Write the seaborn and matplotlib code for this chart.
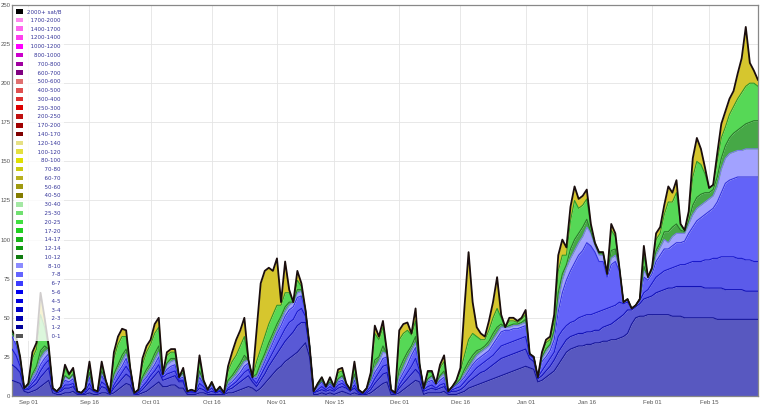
import pandas as pd
import numpy as np
import matplotlib.pyplot as plt
import seaborn as sns
from matplotlib.patches import Patch

# daily samples, 2020-08-28 .. 2021-02-27, cumulative levels in MvB
start = "2020-08-28"

total = [42, 38, 25, 5, 8, 28, 34, 66, 50, 32,
         5, 3, 6, 20, 14, 18, 3, 2, 5, 22,
         4, 3, 22, 10, 2, 28, 38, 43, 42, 18,
         2, 4, 24, 32, 36, 46, 50, 14, 28, 30,
         30, 12, 18, 3, 4, 3, 26, 10, 4, 9,
         3, 6, 2, 19, 28, 36, 42, 50, 23, 12,
         42, 72, 80, 82, 80, 88, 60, 86, 68, 60,
         80, 72, 55, 32, 3, 8, 12, 6, 12, 6,
         17, 18, 8, 4, 22, 4, 2, 5, 15, 45,
         38, 48, 28, 4, 2, 42, 46, 47, 40, 56,
         20, 5, 16, 16, 8, 20, 26, 3, 6, 10,
         18, 57, 92, 60, 44, 40, 38, 48, 60, 76,
         52, 44, 50, 50, 48, 50, 55, 27, 25, 12,
         28, 36, 38, 52, 90, 100, 95, 121, 134, 126,
         128, 132, 110, 98, 92, 92, 78, 110, 104, 82,
         60, 62, 56, 58, 62, 96, 76, 82, 104, 108,
         122, 134, 130, 138, 110, 106, 118, 152, 165, 158,
         146, 133, 135, 155, 174, 182, 190, 195, 206, 216,
         236, 213, 208, 202]

green_top = [41, 37, 25, 5, 8, 24, 30, 52, 44, 31,
             5, 3, 6, 18, 13, 17, 3, 2, 5, 20,
             4, 3, 20, 10, 2, 24, 33, 38, 38, 18,
             2, 4, 20, 28, 33, 40, 44, 14, 26, 28,
             28, 12, 17, 3, 4, 3, 23, 10, 4, 9,
             3, 6, 2, 16, 22, 26, 32, 38, 23, 12,
             22, 30, 38, 46, 52, 58, 58, 66, 66, 60,
             74, 70, 55, 32, 3, 8, 12, 6, 11, 6,
             15, 16, 8, 4, 19, 4, 2, 5, 14, 40,
             36, 44, 28, 4, 2, 36, 40, 42, 39, 48,
             20, 5, 15, 15, 8, 18, 22, 3, 6, 10,
             16, 26, 36, 40, 38, 36, 36, 42, 50, 56,
             50, 44, 48, 48, 47, 49, 52, 27, 25, 12,
             27, 34, 36, 48, 80, 90, 90, 112, 125, 120,
             122, 126, 108, 98, 92, 92, 78, 106, 102, 82,
             60, 62, 56, 58, 62, 90, 76, 82, 100, 104,
             116, 124, 124, 130, 110, 106, 116, 140, 150, 148,
             142, 133, 135, 150, 165, 172, 180, 185, 190, 194,
             198, 200, 200, 198]

dkgreen_top = [40, 36, 24, 5, 7, 14, 19, 29, 32, 30,
               5, 3, 6, 13, 11, 14, 3, 2, 5, 15,
               4, 3, 16, 10, 2, 14, 20, 26, 30, 18,
               2, 4, 12, 17, 21, 27, 32, 14, 21, 24,
               24, 12, 15, 3, 4, 3, 16, 9, 4, 8,
               3, 5, 2, 10, 13, 17, 21, 26, 23, 12,
               14, 21, 27, 34, 40, 46, 51, 57, 60, 60,
               68, 68, 55, 32, 3, 7, 10, 6, 9, 6,
               11, 13, 8, 4, 14, 4, 2, 5, 11, 23,
               25, 32, 27, 4, 2, 17, 23, 28, 32, 38,
               20, 5, 11, 13, 8, 13, 16, 3, 6, 8,
               11, 17, 22, 26, 29, 30, 32, 35, 40, 44,
               46, 44, 45, 46, 46, 47, 49, 27, 25, 12,
               25, 30, 33, 42, 66, 78, 84, 94, 100, 104,
               108, 113, 105, 97, 91, 91, 78, 93, 94, 82,
               60, 62, 56, 58, 62, 83, 76, 81, 93, 98,
               105, 105, 108, 110, 106, 105, 112, 122, 127, 129,
               130, 130, 132, 140, 152, 160, 165, 168, 170, 172,
               174, 175, 176, 176]

blue_top = [40, 35, 24, 5, 7, 12, 16, 24, 28, 30,
            5, 3, 6, 12, 11, 13, 3, 2, 5, 14,
            4, 3, 15, 10, 2, 12, 17, 22, 27, 18,
            2, 4, 10, 14, 18, 23, 28, 14, 20, 22,
            23, 12, 14, 3, 4, 3, 14, 9, 4, 8,
            3, 5, 2, 8, 11, 14, 18, 22, 23, 12,
            12, 18, 24, 30, 36, 42, 48, 54, 58, 60,
            66, 67, 55, 32, 3, 7, 10, 6, 9, 6,
            10, 12, 8, 4, 12, 4, 2, 5, 10, 18,
            22, 28, 27, 4, 2, 12, 18, 24, 29, 34,
            20, 5, 10, 12, 8, 12, 14, 3, 6, 8,
            10, 14, 18, 22, 26, 28, 30, 32, 36, 40,
            44, 44, 44, 45, 45, 46, 47, 27, 25, 12,
            24, 28, 32, 40, 60, 74, 82, 88, 93, 98,
            102, 108, 104, 96, 90, 90, 78, 88, 90, 82,
            60, 62, 56, 58, 62, 80, 76, 80, 90, 95,
            100, 98, 102, 104, 104, 104, 110, 116, 120, 122,
            124, 126, 128, 134, 145, 152, 155, 156, 157, 157,
            158, 158, 158, 158]

lav_base = [38, 33, 23, 5, 6, 10, 14, 20, 24, 27,
            5, 3, 5, 10, 9, 11, 3, 2, 4, 12,
            4, 3, 13, 9, 2, 10, 15, 19, 24, 17,
            2, 4, 9, 12, 16, 20, 25, 13, 17, 19,
            20, 11, 12, 3, 4, 3, 12, 8, 4, 7,
            3, 5, 2, 7, 9, 12, 15, 19, 21, 12,
            11, 16, 22, 28, 34, 40, 45, 51, 55, 57,
            63, 64, 54, 32, 3, 6, 9, 5, 8, 5,
            9, 10, 7, 4, 10, 4, 2, 4, 9, 15,
            19, 24, 25, 4, 2, 10, 15, 20, 26, 31,
            19, 5, 9, 10, 7, 10, 12, 3, 5, 7,
            9, 12, 16, 20, 23, 25, 27, 29, 33, 37,
            41, 42, 42, 43, 43, 44, 45, 27, 25, 12,
            22, 25, 29, 36, 54, 66, 74, 80, 85, 90,
            93, 98, 96, 92, 86, 86, 76, 84, 86, 80,
            60, 61, 56, 58, 62, 76, 74, 78, 86, 90,
            94, 94, 96, 98, 98, 99, 104, 108, 112, 114,
            116, 118, 120, 124, 130, 136, 138, 139, 140, 140,
            140, 140, 140, 140]

up_top = [30, 26, 19, 4, 5, 8, 11, 16, 20, 23,
          4, 3, 4, 7, 7, 8, 2, 2, 3, 8,
          3, 2, 9, 7, 1, 7, 11, 15, 19, 15,
          1, 3, 6, 9, 13, 16, 20, 12, 14, 15,
          16, 10, 10, 2, 3, 2, 8, 6, 3, 5,
          2, 4, 1, 5, 7, 9, 12, 15, 17, 11,
          8, 13, 18, 23, 28, 33, 38, 43, 47, 49,
          54, 56, 51, 31, 2, 4, 6, 4, 6, 4,
          7, 8, 6, 3, 7, 3, 1, 3, 6, 11,
          15, 19, 20, 3, 1, 7, 11, 15, 19, 24,
          16, 4, 6, 7, 5, 7, 8, 2, 4, 5,
          6, 9, 12, 15, 18, 20, 22, 24, 26, 29,
          32, 33, 34, 35, 36, 37, 38, 26, 24, 12,
          16, 20, 24, 28, 38, 42, 45, 47, 48, 50,
          51, 52, 52, 53, 54, 55, 56, 57, 58, 60,
          59, 60, 56, 58, 61, 66, 68, 72, 76, 78,
          80, 81, 82, 83, 84, 84, 85, 86, 86, 86,
          87, 87, 88, 88, 89, 89, 89, 89, 88, 88,
          87, 87, 86, 86]

mid_top = [20, 18, 15, 4, 4, 6, 8, 12, 15, 18,
           4, 2, 3, 5, 5, 6, 2, 1, 2, 5,
           3, 2, 6, 5, 1, 5, 8, 11, 14, 12,
           1, 2, 4, 7, 10, 13, 16, 10, 11, 12,
           13, 9, 9, 2, 2, 2, 5, 4, 2, 3,
           2, 3, 1, 4, 5, 7, 9, 11, 13, 9,
           6, 10, 14, 19, 23, 27, 31, 35, 38, 41,
           45, 47, 47, 30, 2, 3, 4, 3, 4, 3,
           5, 6, 5, 3, 5, 2, 1, 2, 4, 8,
           11, 14, 15, 3, 1, 5, 8, 11, 14, 17,
           14, 3, 4, 5, 4, 5, 6, 2, 3, 3,
           4, 6, 9, 11, 13, 15, 16, 18, 20, 22,
           24, 25, 26, 27, 28, 29, 30, 24, 22, 11,
           13, 16, 19, 23, 28, 32, 36, 38, 39, 40,
           40, 41, 41, 42, 42, 44, 45, 46, 48, 50,
           52, 55, 55, 57, 59, 62, 63, 64, 66, 67,
           68, 69, 69, 70, 70, 70, 70, 70, 70, 70,
           69, 69, 69, 69, 69, 68, 68, 68, 68, 68,
           67, 67, 67, 67]

low_top = [10, 9, 8, 3, 2, 3, 4, 6, 8, 10,
           2, 1, 1, 2, 2, 3, 1, 1, 1, 2,
           1, 1, 2, 2, 1, 2, 4, 6, 8, 7,
           1, 1, 2, 3, 5, 7, 9, 6, 6, 7,
           7, 5, 5, 1, 1, 1, 2, 2, 1, 1,
           1, 1, 1, 2, 2, 3, 4, 5, 6, 5,
           3, 5, 8, 11, 14, 17, 19, 22, 24, 26,
           28, 31, 34, 25, 1, 1, 2, 1, 2, 1,
           2, 3, 2, 1, 2, 1, 1, 1, 2, 4,
           6, 8, 9, 1, 1, 2, 4, 6, 8, 10,
           9, 1, 2, 2, 2, 2, 3, 1, 1, 1,
           2, 3, 5, 6, 7, 8, 9, 10, 11, 12,
           13, 14, 15, 16, 17, 18, 19, 18, 17, 9,
           10, 12, 14, 16, 20, 24, 28, 30, 31, 32,
           32, 33, 33, 34, 34, 35, 35, 36, 36, 37,
           38, 40, 46, 50, 51, 51, 52, 52, 52, 52,
           52, 52, 51, 51, 51, 50, 50, 50, 50, 50,
           50, 50, 50, 49, 49, 49, 49, 49, 49, 49,
           49, 49, 49, 49]

bands = ["0-1", "1-2", "2-3", "3-4", "4-5", "5-6", "6-7", "7-8", "8-10",
         "10-12", "12-14", "14-17", "17-20", "20-25", "25-30", "30-40",
         "40-50", "50-60", "60-70", "70-80", "80-100", "100-120", "120-140",
         "140-170", "170-200", "200-250", "250-300", "300-400", "400-500",
         "500-600", "600-700", "700-800", "800-1000", "1000-1200",
         "1200-1400", "1400-1700", "1700-2000", "2000+ sat/B"]
band_colors = ["#555555", "#000099", "#0000b0", "#0000c8", "#0000dd", "#0000f0",
               "#3c3cff", "#6464ff", "#8c8cff",
               "#107c10", "#109a10", "#18b418", "#20d020", "#40e040", "#70e070",
               "#a4e8a4",
               "#847c00", "#a09a10", "#b8b020", "#cccc10", "#e0e000", "#e4e040",
               "#e6e084",
               "#800000", "#a00000", "#c01010", "#dd0000", "#dd3030", "#e05050",
               "#e07070", "#800080", "#a000a0", "#cc00cc", "#ff00ff", "#ff40ee",
               "#ff66ee", "#ff88ee", "#000000"]

tick_dates = ["2020-09-01", "2020-09-16", "2020-10-01", "2020-10-16",
              "2020-11-01", "2020-11-15", "2020-12-01", "2020-12-16",
              "2021-01-01", "2021-01-16", "2021-02-01", "2021-02-15"]
tick_labels = ["Sep 01", "Sep 16", "Oct 01", "Oct 16", "Nov 01", "Nov 15",
               "Dec 01", "Dec 16", "Jan 01", "Jan 16", "Feb 01", "Feb 15"]

dates = pd.date_range(start, periods=len(total), freq="D")

# (level, band it tops, fill colour, line colour)
layers = [
    (low_top, "1-2", "#5858c0", "#16169a"),
    (mid_top, "3-4", "#5959d6", "#1212b8"),
    (up_top, "5-6", "#5b5bea", "#1a1acc"),
    (lav_base, "7-8", "#6363f8", "#3434e0"),
    (blue_top, "8-10", "#a2a2ff", "#7c7cf0"),
    (dkgreen_top, "10-12", "#46a846", "#2a7a2a"),
    (green_top, "17-20", "#56d856", "#2a9a2a"),
    (total, "80-100", "#d6c62e", "#1a0d0d"),
]

sns.set_theme(style="whitegrid")
plt.rcParams['font.family'] = ['Liberation Sans', 'DejaVu Sans']

fig = plt.figure(figsize=(7.67, 4.17), dpi=100)
ax = fig.add_axes([12 / 767, 21 / 417, 746 / 767, 391 / 417])
ax.set_facecolor("white")

prev = np.zeros(len(total))
for level, name, fc, lc in layers:
    lv = np.array(level, dtype=float)
    ax.fill_between(dates, prev, lv, color=fc, lw=0, zorder=2)
    prev = lv

for level, name, fc, lc in layers[:-1]:
    sns.lineplot(x=dates, y=level, ax=ax, color=lc, lw=0.8, zorder=3)
sns.lineplot(x=dates, y=total, ax=ax, color="#1a0d0d", lw=1.3, zorder=4)

ax.set_xlim(dates[0], dates[-1])
ax.set_ylim(0, 250)
ax.set_yticks(range(0, 251, 25))
ax.set_xticks(pd.to_datetime(tick_dates))
ax.set_xticklabels(tick_labels)
ax.tick_params(axis="both", labelsize=4.3, colors="#555555", length=0)
ax.tick_params(axis="x", pad=3)
ax.tick_params(axis="y", pad=1)
ax.set_xlabel("")
ax.set_ylabel("")
ax.grid(True, color="#e4e4e4", lw=0.6, zorder=0)
ax.set_axisbelow(True)
for sp in ax.spines.values():
    sp.set_color("#888888")
    sp.set_linewidth(0.9)

# right-aligned legend labels: pad with figure spaces
labels = []
for b in bands:
    if "sat" in b:
        labels.append(b)
    else:
        nd = len(b) - 1
        labels.append("\u2007" * (9 - nd) + b)
handles = [Patch(facecolor=c, edgecolor="none") for c in band_colors]
leg = ax.legend(handles[::-1], labels[::-1], loc="upper left",
                prop={"family": "DejaVu Sans", "size": 4},
                labelcolor="#333399", frameon=True,
                framealpha=0.8, facecolor="white", edgecolor="none",
                handlelength=1.2, handleheight=0.9, handletextpad=0.8,
                labelspacing=0.64, borderpad=0.4, borderaxespad=0.3)
leg.set_zorder(5)

fig.savefig("out.png", dpi=100)
